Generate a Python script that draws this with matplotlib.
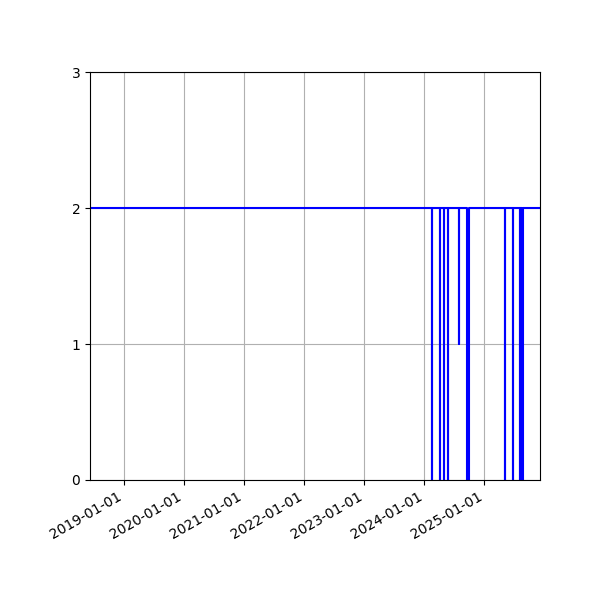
import matplotlib
matplotlib.use("Agg")
import matplotlib.pyplot as plt
import matplotlib.dates as mdates
import pandas as pd

# change points (value holds from this date until the next one)
change_dates = [
    "2018-06-07",
    "2024-02-18", "2024-02-19",
    "2024-04-03", "2024-04-05",
    "2024-04-28", "2024-04-29",
    "2024-05-26", "2024-05-27",
    "2024-07-29", "2024-07-30",
    "2024-09-16", "2024-09-30",
    "2025-05-08", "2025-05-09",
    "2025-06-21", "2025-06-22",
    "2025-08-05", "2025-08-06",
    "2025-08-20", "2025-08-26",
    "2025-12-05",
]
change_values = [
    2,
    0, 2,
    0, 2,
    0, 2,
    0, 2,
    1, 2,
    0, 2,
    0, 2,
    0, 2,
    0, 2,
    0, 2,
    2,
]
y_ticks = [0, 1, 2, 3]

dates = pd.to_datetime(change_dates)

fig = plt.figure(figsize=(6, 6), dpi=100)
ax = fig.add_subplot(111)
ax.plot(dates, change_values, color="b", linewidth=1.5, drawstyle="steps-post")
ax.set_xlim(dates[0], dates[-1])
ax.set_ylim(0, 3)
ax.set_yticks(y_ticks)
ax.xaxis.set_major_locator(mdates.YearLocator())
ax.xaxis.set_major_formatter(mdates.DateFormatter("%Y-%m-%d"))
ax.grid(True)
fig.autofmt_xdate()
fig.subplots_adjust(left=0.15, right=0.9, top=0.88, bottom=0.2)
fig.savefig("out.png", dpi=100)
